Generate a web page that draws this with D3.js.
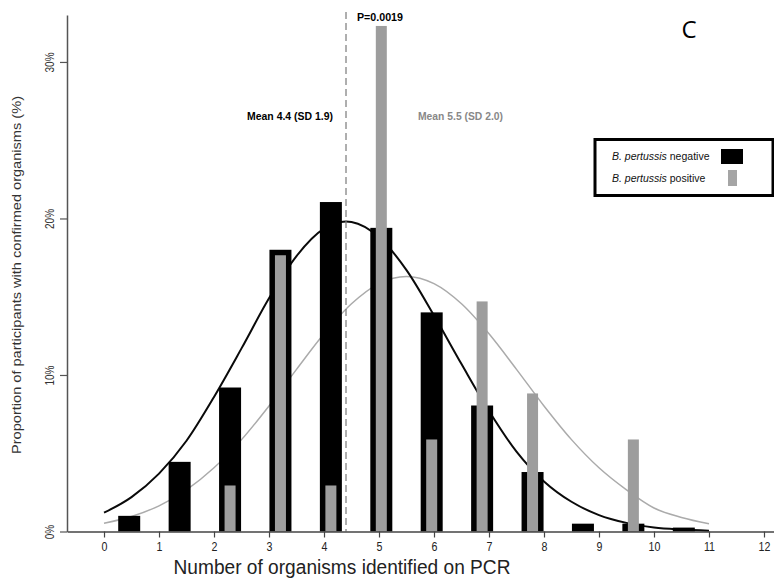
<!DOCTYPE html>
<html><head><meta charset="utf-8">
<script src="https://cdnjs.cloudflare.com/ajax/libs/d3/7.8.5/d3.min.js"></script>
<style>
html,body{margin:0;padding:0;background:#fff;}
svg{display:block;}
</style></head>
<body>
<script>
// ---- data ----
const binCenters = [0.458, 1.375, 2.292, 3.208, 4.125, 5.042, 5.958, 6.875, 7.792, 8.708, 9.625, 10.542];
const negativeValues = [1.0, 4.45, 9.2, 18.0, 21.05, 19.4, 14.0, 8.05, 3.8, 0.5, 0.5, 0.25];
const positiveValues = [0, 0, 2.94, 17.65, 2.94, 32.3, 5.88, 14.7, 8.82, 0, 5.88, 0];
const curveX = [0,0.5,1,1.5,2,2.5,3,3.5,4,4.4,4.5,5,5.5,6,6.5,7,7.5,8,8.5,9,9.5,10,10.5,11];
const negativeCurve = [1.2,2.2,3.7,5.8,8.6,11.7,14.9,17.6,19.35,19.8,19.77,18.8,16.7,13.8,10.7,7.7,5.1,3.2,1.9,1.05,0.55,0.25,0.12,0.05];
const curveX2 = [0,0.5,1,1.5,2,2.5,3,3.5,4,4.5,5,5.5,6,6.5,7,7.5,8,8.5,9,9.5,10,10.5,11];
const positiveCurve = [0.53,0.96,1.64,2.66,4.07,5.87,8.02,10.36,12.63,14.55,15.84,16.3,15.84,14.55,12.63,10.36,8.02,5.87,4.07,2.66,1.5,0.9,0.5];
const xTicks = [0,1,2,3,4,5,6,7,8,9,10,11,12];
const yTicks = [0,10,20,30];
const meanNeg = 4.4;
const texts = {
  p: "P=0.0019",
  meanNeg: "Mean 4.4 (SD 1.9)",
  meanPos: "Mean 5.5 (SD 2.0)",
  xTitle: "Number of organisms identified on PCR",
  yTitle: "Proportion of participants with confirmed organisms (%)",
  panel: "C"
};
const legendItems = ["negative", "positive"];

// ---- layout ----
const W = 774, H = 579;
const SANS = "'Liberation Sans',Arial,Helvetica,sans-serif";
const svg = d3.select("body").append("svg").attr("width", W).attr("height", H);
svg.append("rect").attr("width", W).attr("height", H).attr("fill", "#fff");

const x = d3.scaleLinear().domain([-0.673, 12.182]).range([67, 774]);
const y = d3.scaleLinear().domain([0, 33]).range([531.5, 15]);

// curves (beneath bars)
const line = d3.line().curve(d3.curveMonotoneX);
svg.append("path")
  .attr("d", line(curveX2.map((v,i)=>[x(v), y(positiveCurve[i])])))
  .attr("fill","none").attr("stroke","#ababab").attr("stroke-width",1.5);
svg.append("path")
  .attr("d", line(curveX.map((v,i)=>[x(v), y(negativeCurve[i])])))
  .attr("fill","none").attr("stroke","#0a0a0a").attr("stroke-width",2);

// bars
const negW = x(0.4) - x(0), posW = x(0.2) - x(0);
svg.append("g").selectAll("rect").data(negativeValues).join("rect")
  .attr("x", (d,i)=>x(binCenters[i]) - negW/2)
  .attr("width", negW)
  .attr("y", d=>y(d)).attr("height", d=>y(0)-y(d))
  .attr("fill","#000");
svg.append("g").selectAll("rect").data(positiveValues).join("rect")
  .attr("x", (d,i)=>x(binCenters[i]) - posW/2)
  .attr("width", posW)
  .attr("y", d=>y(d)).attr("height", d=>y(0)-y(d))
  .attr("fill","#9d9d9d");

// dashed mean line
svg.append("line")
  .attr("x1", x(meanNeg)).attr("x2", x(meanNeg))
  .attr("y1", 12).attr("y2", y(0))
  .attr("stroke","#7a7a7a").attr("stroke-width",1.2).attr("stroke-dasharray","7,4");

// axes
const xAxis = d3.axisBottom(x).tickValues(xTicks).tickSize(6).tickSizeOuter(0).tickFormat(d3.format("d"));
const gx = svg.append("g").attr("transform", `translate(0,${y(0)})`).call(xAxis);
gx.select(".domain").attr("stroke","#444").attr("stroke-width",1.5);
gx.selectAll(".tick line").attr("stroke","#444").attr("stroke-width",1.2);
gx.selectAll(".tick text").attr("font-family",SANS).attr("font-size",13).attr("fill","#222")
  .attr("dy","0.71em").attr("y",10).attr("transform","scale(0.82,1)");

const yAxis = d3.axisLeft(y).tickValues(yTicks).tickSize(7).tickSizeOuter(0).tickFormat(d=>d+"%");
const gy = svg.append("g").attr("transform", `translate(${x.range()[0]},0)`).call(yAxis);
gy.select(".domain").attr("stroke","#555").attr("stroke-width",1.5);
gy.selectAll(".tick line").attr("stroke","#555").attr("stroke-width",1.2);
gy.selectAll(".tick text").attr("font-family",SANS).attr("font-size",12.5).attr("fill","#333")
  .attr("text-anchor","middle").attr("transform","rotate(-90) scale(0.8,1)").attr("x",0).attr("y",-13).attr("dy","0");

// titles
svg.append("text").attr("x", 342).attr("y", 574).attr("text-anchor","middle")
  .attr("font-family",SANS).attr("font-size",20).attr("fill","#222")
  .attr("textLength",337).attr("lengthAdjust","spacingAndGlyphs").text(texts.xTitle);
svg.append("text").attr("transform","translate(21,275) rotate(-90)").attr("text-anchor","middle")
  .attr("font-family",SANS).attr("font-size",12).attr("fill","#333")
  .attr("textLength",358).attr("lengthAdjust","spacingAndGlyphs").text(texts.yTitle);

// annotations
svg.append("text").attr("x",357).attr("y",21).attr("font-family",SANS).attr("font-weight","bold")
  .attr("font-size",10).attr("fill","#000")
  .attr("textLength",46).attr("lengthAdjust","spacingAndGlyphs").text(texts.p);
svg.append("text").attr("x",247).attr("y",120).attr("font-family",SANS).attr("font-weight","bold")
  .attr("font-size",10).attr("fill","#000")
  .attr("textLength",86).attr("lengthAdjust","spacingAndGlyphs").text(texts.meanNeg);
svg.append("text").attr("x",418).attr("y",120).attr("font-family",SANS).attr("font-weight","bold")
  .attr("font-size",10).attr("fill","#888")
  .attr("textLength",85).attr("lengthAdjust","spacingAndGlyphs").text(texts.meanPos);
svg.append("text").attr("x",689).attr("y",38).attr("text-anchor","middle").attr("font-family","'Open Sans',sans-serif")
  .attr("font-size",24).attr("font-weight",500).attr("fill","#000").text(texts.panel);

// legend
const lg = svg.append("g");
lg.append("rect").attr("x",595).attr("y",139.5).attr("width",178).attr("height",56)
  .attr("fill","#fff").attr("stroke","#000").attr("stroke-width",3);
lg.append("line").attr("x1",595).attr("x2",774).attr("y1",196).attr("y2",196).attr("stroke","#000").attr("stroke-width",2);
legendItems.forEach((lab,i)=>{
  const t = lg.append("text").attr("x",612).attr("y",160 + i*22).attr("font-family",SANS)
    .attr("font-size",10.5).attr("fill","#111");
  t.append("tspan").attr("font-style","italic").text("B. pertussis");
  t.append("tspan").text(" " + lab);
});
lg.append("rect").attr("x",721).attr("y",149).attr("width",22).attr("height",15).attr("fill","#000");
lg.append("rect").attr("x",728).attr("y",170).attr("width",9).attr("height",16).attr("fill","#a5a5a5");
</script>
</body></html>
